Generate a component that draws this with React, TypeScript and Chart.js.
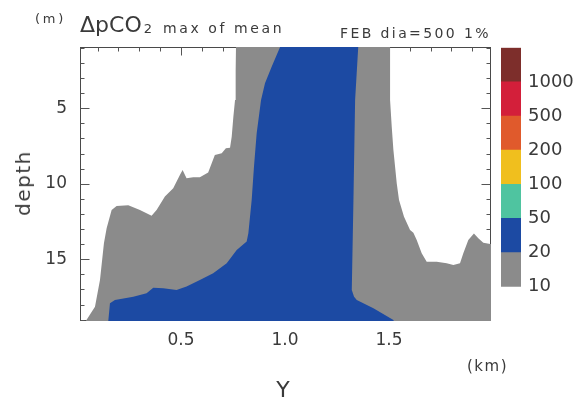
import React, { useEffect, useRef } from 'react';
import { Chart, registerables } from 'chart.js';

Chart.register(...registerables);

const FONT = '"DejaVu Sans", "Liberation Sans", sans-serif';
const INK = '#3a3a3a';

// Outline of the ΔpCO2 >= 10 area: Y (km) and depth (m), walked left to right
const band10Km = [
  0.038, 0.043, 0.087, 0.111, 0.130, 0.143, 0.167, 0.191, 0.247, 0.303, 0.359,
  0.383, 0.423, 0.463, 0.495, 0.508, 0.527, 0.559, 0.591, 0.631, 0.663, 0.696,
  0.716, 0.736, 0.744, 0.752, 0.760, 0.763, 0.765,
  1.505, 1.505, 1.513, 1.521, 1.537, 1.548, 1.572, 1.601, 1.617, 1.633, 1.657,
  1.681, 1.729, 1.777, 1.809, 1.841, 1.857, 1.881, 1.908, 1.929, 1.953, 1.986,
  2.05, 2.05,
];
const band10Depth = [
  19.6, 19.09, 18.14, 16.37, 13.94, 12.95, 11.73, 11.47, 11.42, 11.73, 12.11,
  11.73, 10.85, 10.3, 9.42, 9.09, 9.64, 9.57, 9.57, 9.26, 8.09, 7.98,
  7.65, 7.61, 6.88, 5.56, 4.45, 2.5, 0.5,
  0.5, 4.45, 6.22, 7.76, 9.97, 11.07, 12.18, 13.06, 13.24, 13.72, 14.6,
  15.16, 15.16, 15.26, 15.38, 15.26, 14.6, 13.72, 13.3, 13.61, 13.9, 13.99,
  14.0, 19.6,
];

// Outline of the ΔpCO2 >= 20 area
const band20Km = [
  0.148, 0.151, 0.159, 0.183, 0.271, 0.335, 0.367, 0.415, 0.479, 0.527, 0.591,
  0.655, 0.720, 0.768, 0.816, 0.824, 0.840, 0.851, 0.864, 0.885, 0.904, 0.936,
  0.976, 0.99,
  1.354, 1.352, 1.337, 1.329, 1.321, 1.332, 1.345, 1.425, 1.521, 1.535,
];
const band20Depth = [
  19.6, 19.09, 17.91, 17.7, 17.48, 17.25, 16.88, 16.92, 17.03, 16.81, 16.37,
  15.93, 15.26, 14.38, 13.83, 13.28, 11.07, 8.87, 6.66, 4.45, 3.34, 2.25,
  0.96, 0.5,
  0.5, 0.94, 4.45, 11.07, 17.03, 17.48, 17.7, 18.25, 19.02, 19.6,
];

const xTickLabels = [0.5, 1.0, 1.5];
const xMinorTicks = [
  0.1, 0.2, 0.3, 0.4, 0.5, 0.6, 0.7, 0.8, 0.9, 1.0,
  1.1, 1.2, 1.3, 1.4, 1.5, 1.6, 1.7, 1.8, 1.9,
];
const depthTickLabels = [5, 10, 15];
const depthMinorTicks = [
  1, 2, 3, 4, 5, 6, 7, 8, 9, 10, 11, 12, 13, 14, 15, 16, 17, 18, 19,
];

// Colour scale, lowest level first
const levelLabels = ['10', '20', '50', '100', '200', '500', '1000'];
const levelColors = [
  '#8b8b8b', '#1c4aa3', '#4fc4a0', '#f0bf1e', '#e05a2c', '#d31f3a', '#7d2e2b',
];
const levelBand = [1, 1, 1, 1, 1, 1, 1];

// Frame with inward ticks on all four sides, drawn beneath the filled areas
const frameTicks = {
  id: 'frameTicks',
  beforeDatasetsDraw(chart: any) {
    const { ctx, chartArea: a, scales } = chart;
    const xs = scales.x;
    const ys = scales.y;
    const L = Math.round(a.left) + 0.5;
    const R = Math.round(a.right) - 0.5;
    const T = Math.round(a.top) + 0.5;
    const B = Math.round(a.bottom) - 0.5;
    ctx.save();
    ctx.strokeStyle = '#4a4a4a';
    ctx.lineWidth = 1;
    ctx.strokeRect(L, T, R - L, B - T);
    ctx.strokeStyle = '#555';
    ctx.beginPath();
    for (const v of xMinorTicks) {
      const px = Math.round(xs.getPixelForValue(v)) + 0.5;
      const len = xTickLabels.includes(v) ? 8 : 4;
      ctx.moveTo(px, T);
      ctx.lineTo(px, T + len);
      ctx.moveTo(px, B);
      ctx.lineTo(px, B - len);
    }
    for (const d of depthMinorTicks) {
      const py = Math.round(ys.getPixelForValue(d)) + 0.5;
      const len = depthTickLabels.includes(d) ? 9 : 4;
      ctx.moveTo(L, py);
      ctx.lineTo(L + len, py);
      ctx.moveTo(R, py);
      ctx.lineTo(R - len, py);
    }
    ctx.stroke();
    ctx.restore();
  },
};

const toPoints = (xs: number[], ys: number[]) => xs.map((x, i) => ({ x, y: ys[i] }));

type TxtProps = {
  x: number;
  base: number;
  size: number;
  ls?: number;
  center?: boolean;
  children: React.ReactNode;
};

// Text placed by its baseline
function Txt({ x, base, size, ls = 0, center = false, children }: TxtProps) {
  return (
    <div
      style={{
        position: 'absolute',
        left: x,
        top: base - 0.846 * size,
        fontSize: size,
        lineHeight: `${size}px`,
        letterSpacing: ls,
        whiteSpace: 'pre',
        transform: center ? 'translateX(-50%)' : undefined,
      }}
    >
      {children}
    </div>
  );
}

export default function App() {
  const plotRef = useRef<HTMLCanvasElement>(null);
  const barRef = useRef<HTMLCanvasElement>(null);

  useEffect(() => {
    const tickFont = { family: FONT, size: 17 };

    const plot = new Chart(plotRef.current as HTMLCanvasElement, {
      type: 'scatter',
      data: {
        datasets: [
          {
            label: '20',
            data: toPoints(band20Km, band20Depth),
            showLine: true,
            fill: 'shape',
            backgroundColor: levelColors[1],
            borderColor: 'rgba(0,0,0,0)',
            borderWidth: 0,
            pointRadius: 0,
            order: 0,
          },
          {
            label: '10',
            data: toPoints(band10Km, band10Depth),
            showLine: true,
            fill: 'shape',
            backgroundColor: levelColors[0],
            borderColor: 'rgba(0,0,0,0)',
            borderWidth: 0,
            pointRadius: 0,
            order: 1,
          },
        ],
      },
      options: {
        responsive: false,
        animation: false,
        events: [],
        layout: { padding: { left: 0, top: 47, right: 93, bottom: 0 } },
        plugins: {
          legend: { display: false },
          tooltip: { enabled: false },
        },
        scales: {
          x: {
            type: 'linear',
            position: 'bottom',
            min: 0.015,
            max: 1.99,
            afterBuildTicks: (s: any) => {
              s.ticks = xTickLabels.map((value) => ({ value }));
            },
            afterFit: (s: any) => {
              s.height = 84;
            },
            grid: { display: false, drawTicks: false },
            border: { display: false },
            ticks: {
              padding: 9,
              color: INK,
              font: tickFont,
              maxRotation: 0,
              autoSkip: false,
              callback: (v: any) => Number(v).toFixed(1),
            },
          },
          y: {
            type: 'linear',
            reverse: true,
            min: 0.94,
            max: 19.09,
            afterBuildTicks: (s: any) => {
              s.ticks = depthTickLabels.map((value) => ({ value }));
            },
            afterFit: (s: any) => {
              s.width = 80;
            },
            grid: { display: false, drawTicks: false },
            border: { display: false },
            ticks: {
              padding: 13,
              color: INK,
              font: tickFont,
              autoSkip: false,
              callback: (v: any) => String(v),
            },
          },
        },
      } as any,
      plugins: [frameTicks],
    });

    const bar = new Chart(barRef.current as HTMLCanvasElement, {
      type: 'bar',
      data: {
        labels: [''],
        datasets: levelColors.map((c, i) => ({
          label: levelLabels[i],
          data: [levelBand[i]],
          backgroundColor: c,
          borderWidth: 0,
          barPercentage: 1,
          categoryPercentage: 1,
        })),
      },
      options: {
        responsive: false,
        animation: false,
        events: [],
        layout: { padding: { left: 0, right: 0, top: 7.7, bottom: 13.3 } },
        plugins: {
          legend: { display: false },
          tooltip: { enabled: false },
        },
        scales: {
          x: { stacked: true, display: false },
          y: {
            stacked: true,
            position: 'right',
            min: 0,
            max: 7,
            afterBuildTicks: (s: any) => {
              s.ticks = levelLabels.map((_, i) => ({ value: i }));
            },
            afterFit: (s: any) => {
              s.width = 63;
              s.paddingTop = 0;
              s.paddingBottom = 0;
            },
            grid: { display: false, drawTicks: false },
            border: { display: false },
            ticks: {
              padding: 7,
              color: INK,
              font: { family: FONT, size: 18 },
              autoSkip: false,
              callback: (_v: any, i: number) => levelLabels[i],
            },
          },
        },
      } as any,
    });

    return () => {
      plot.destroy();
      bar.destroy();
    };
  }, []);

  return (
    <div
      style={{
        position: 'fixed',
        left: 0,
        top: 0,
        width: 584,
        height: 405,
        background: '#ffffff',
        fontFamily: FONT,
        color: INK,
        overflow: 'hidden',
      }}
    >
      <canvas
        ref={plotRef}
        width={584}
        height={405}
        style={{ position: 'absolute', left: 0, top: 0 }}
      />
      <canvas
        ref={barRef}
        width={83}
        height={260}
        style={{ position: 'absolute', left: 501, top: 40 }}
      />

      <Txt x={35} base={23.3} size={13} ls={2.8}>(m)</Txt>
      <Txt x={80} base={32.7} size={22}>
        ΔpCO
        <span style={{ fontSize: 13, position: 'relative', top: 1, marginLeft: 2 }}>2</span>
      </Txt>
      <Txt x={163} base={33} size={14} ls={2.6}>max of mean</Txt>
      <Txt x={340} base={38.3} size={14} ls={2.4}>FEB dia=500 1%</Txt>
      <Txt x={467} base={372} size={15} ls={1.5}>(km)</Txt>
      <Txt x={283} base={398} size={22} center>Y</Txt>

      <div
        style={{
          position: 'absolute',
          left: 22.5,
          top: 183,
          fontSize: 20,
          lineHeight: '20px',
          letterSpacing: 1.5,
          whiteSpace: 'pre',
          transform: 'translate(-50%, -50%) rotate(-90deg)',
        }}
      >
        depth
      </div>
    </div>
  );
}
